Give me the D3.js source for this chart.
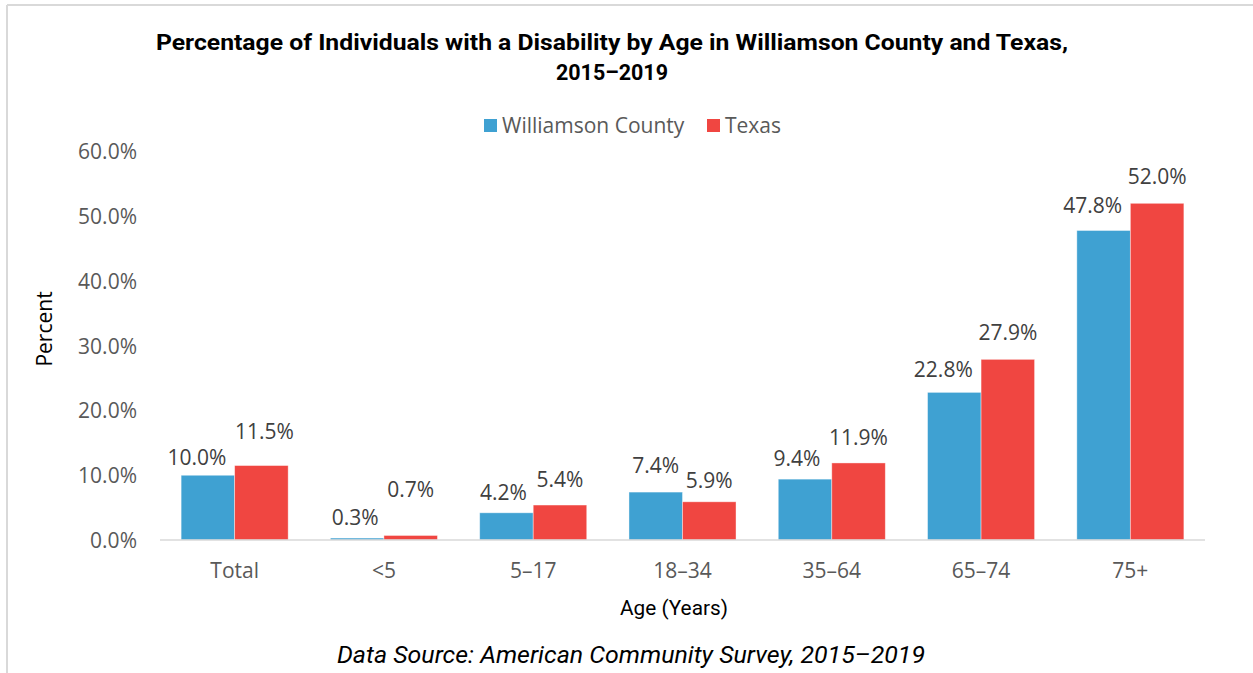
<!DOCTYPE html>
<html>
<head>
<meta charset="utf-8">
<script src="https://cdn.jsdelivr.net/npm/d3@7"></script>
<style>
  html, body { margin: 0; padding: 0; background: #fff; }
  svg { display: block; }
</style>
</head>
<body>
<svg id="chart" width="1253" height="673"></svg>
<script>
// ---- data ----
const categories = ["Total", "<5", "5–17", "18–34", "35–64", "65–74", "75+"];
const seriesNames = ["Williamson County", "Texas"];
const williamson = [10.0, 0.3, 4.2, 7.4, 9.4, 22.8, 47.8];
const texas = [11.5, 0.7, 5.4, 5.9, 11.9, 27.9, 52.0];
const yTicks = [0, 10, 20, 30, 40, 50, 60];

// ---- label placement styling (pixels, manual label nudges as in reference) ----
const liftWC = [10, 13, 13, 19, 13, 15, 17];
const liftTX = [27, 38, 18, 14, 18, 19, 19];
const dxWC = [-11, -2, -3, 0, -8, -11, -11];
const dxTX = [3, 0, 0, 0, 0, 0, 0];

const colors = ["#3FA1D2", "#F04641"];
const W = 1253, H = 673;
const svg = d3.select("#chart");
const FS = 21;

// frame border (left and top)
svg.append("line").attr("x1", 7).attr("x2", 7).attr("y1", 5).attr("y2", H).attr("stroke", "#D9D9D9").attr("stroke-width", 2);
svg.append("line").attr("x1", 7).attr("x2", W).attr("y1", 5).attr("y2", 5).attr("stroke", "#D9D9D9").attr("stroke-width", 2);

const plotLeft = 160, plotRight = 1205, y0 = 540, yTop = 151.5;
const x = d3.scaleBand().domain(categories).range([plotLeft, plotRight]).paddingInner(0.283).paddingOuter(0.1415);
const xs = d3.scaleBand().domain(seriesNames).range([0, x.bandwidth()]);
const y = d3.scaleLinear().domain([0, 60]).range([y0, yTop]);

// title
const title = svg.append("g").attr("font-family", "'Liberation Sans Narrow', 'Roboto', sans-serif").attr("font-weight", "bold").attr("fill", "#000").attr("text-anchor", "middle");
title.append("text").attr("x", 612).attr("y", 50).attr("font-size", 22)
  .attr("textLength", 912).attr("lengthAdjust", "spacingAndGlyphs")
  .text("Percentage of Individuals with a Disability by Age in Williamson County and Texas,");
title.append("text").attr("x", 612).attr("y", 80).attr("font-size", 22)
  .attr("textLength", 112).attr("lengthAdjust", "spacingAndGlyphs")
  .text("2015–2019");

// legend
const legend = svg.append("g").attr("font-family", "'Open Sans', sans-serif").attr("font-size", FS).attr("fill", "#595959");
const legendX = [484, 707];
seriesNames.forEach((s, i) => {
  legend.append("rect").attr("x", legendX[i]).attr("y", 119).attr("width", 13).attr("height", 13).attr("fill", colors[i]);
  legend.append("text").attr("x", legendX[i] + 18).attr("y", 133).text(s);
});

// y axis (no line, labels only)
const yAxis = d3.axisLeft(y).tickValues(yTicks).tickSize(0).tickPadding(0).tickFormat(d => d.toFixed(1) + "%");
const ya = svg.append("g").attr("transform", `translate(137,0)`).call(yAxis);
ya.select(".domain").remove();
ya.selectAll("text").attr("font-family", "'Open Sans', sans-serif").attr("font-size", FS).attr("fill", "#595959").attr("dy", "0.35em");

// bars
const data = categories.map((c, i) => ({ cat: c, i, vals: [williamson[i], texas[i]] }));
const groups = svg.append("g").selectAll("g").data(data).join("g").attr("transform", d => `translate(${x(d.cat)},0)`);
groups.selectAll("rect").data(d => d.vals.map((v, k) => ({ v, k, s: seriesNames[k] })))
  .join("rect")
  .attr("x", d => xs(d.s))
  .attr("width", xs.bandwidth())
  .attr("y", d => y(d.v))
  .attr("height", d => y(0) - y(d.v))
  .attr("fill", d => colors[d.k])
  .attr("stroke", "#ffffff").attr("stroke-opacity", 0.5).attr("stroke-width", 0.8);

// x axis line
const xAxis = d3.axisBottom(x).tickSize(0).tickPadding(0);
const xa = svg.append("g").attr("transform", `translate(0,${y0})`).call(xAxis);
xa.select(".domain").attr("stroke", "#D9D9D9").attr("stroke-width", 1.5).attr("d", `M${plotLeft},0H${plotRight}`);
xa.selectAll("text").attr("font-family", "'Open Sans', sans-serif").attr("font-size", FS).attr("fill", "#595959").attr("dy", "0").attr("y", 38);

// data labels
const lbl = svg.append("g").attr("font-family", "'Open Sans', sans-serif").attr("font-size", FS).attr("fill", "#404040").attr("text-anchor", "middle");
data.forEach(d => {
  d.vals.forEach((v, k) => {
    const cx = x(d.cat) + xs(seriesNames[k]) + xs.bandwidth() / 2 + (k === 0 ? dxWC[d.i] : dxTX[d.i]);
    const cy = y(v) - (k === 0 ? liftWC[d.i] : liftTX[d.i]);
    lbl.append("text").attr("x", cx).attr("y", cy).text(v.toFixed(1) + "%");
  });
});

// axis titles
svg.append("text").attr("transform", "translate(52,329) rotate(-90)").attr("text-anchor", "middle")
  .attr("font-family", "'Open Sans', sans-serif").attr("font-size", FS).attr("fill", "#000").text("Percent");
svg.append("text").attr("x", 674).attr("y", 615).attr("text-anchor", "middle")
  .attr("font-family", "'Liberation Sans Narrow', 'Roboto', sans-serif").attr("font-size", 21).attr("fill", "#000")
  .attr("textLength", 108).attr("lengthAdjust", "spacingAndGlyphs").text("Age (Years)");

// source
svg.append("text").attr("x", 631).attr("y", 663).attr("text-anchor", "middle")
  .attr("font-family", "'Liberation Sans Narrow', 'Roboto', sans-serif").attr("font-style", "italic").attr("font-size", 23).attr("fill", "#000")
  .attr("textLength", 588).attr("lengthAdjust", "spacingAndGlyphs").text("Data Source: American Community Survey, 2015–2019");
</script>
</body>
</html>
